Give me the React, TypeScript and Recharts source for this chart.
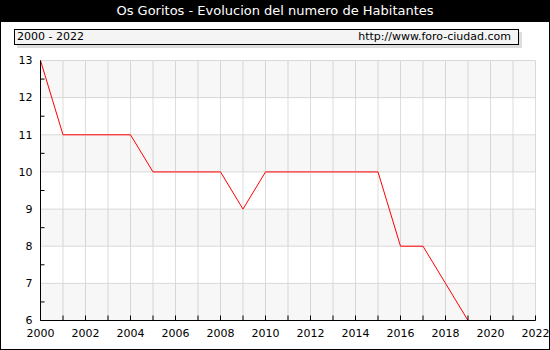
import React from 'react';
import { LineChart, Line, XAxis, YAxis, CartesianGrid, ReferenceArea } from 'recharts';

const years = [2000, 2001, 2002, 2003, 2004, 2005, 2006, 2007, 2008, 2009, 2010, 2011, 2012, 2013, 2014, 2015, 2016, 2017, 2018, 2019];
const habitantes = [13, 11, 11, 11, 11, 10, 10, 10, 10, 9, 10, 10, 10, 10, 10, 10, 8, 8, 7, 6];
const xTicks = [2000, 2001, 2002, 2003, 2004, 2005, 2006, 2007, 2008, 2009, 2010, 2011, 2012, 2013, 2014, 2015, 2016, 2017, 2018, 2019, 2020, 2021, 2022];
const yTicks = [6, 6.5, 7, 7.5, 8, 8.5, 9, 9.5, 10, 10.5, 11, 11.5, 12, 12.5, 13];
const yGrid = [6, 7, 8, 9, 10, 11, 12, 13];
// shaded bands [from, to]
const bands = [[12, 13], [10, 11], [8, 9], [6, 7]];

const FONT = '"DejaVu Sans", Verdana, sans-serif';

const data = years.map((year, i) => ({ year, value: habitantes[i] }));

// tickSize 0 + tickMargin 8 -> axis line sits at x + 8
const YTick = (props: any) => {
  const { x, y, payload } = props;
  const v = payload.value;
  const axisX = x + 8;
  if (Number.isInteger(v)) {
    return (
      <text x={x} y={y} dy="0.35em" textAnchor="end" fontSize={11} fontFamily={FONT} fill="#000">
        {v}
      </text>
    );
  }
  return <line x1={axisX} y1={y} x2={axisX + 4} y2={y} stroke="#000" />;
};

const XTick = (props: any) => {
  const { x, y, payload } = props;
  const v = payload.value;
  return (
    <g>
      <line x1={x} y1={y} x2={x} y2={y - 5} stroke="#000" />
      {v % 2 === 0 && (
        <text x={x} y={y + 16} textAnchor="middle" fontSize={11} fontFamily={FONT} fill="#000">
          {v}
        </text>
      )}
    </g>
  );
};

export default function App() {
  return (
    <div style={{ position: 'absolute', left: 0, top: 0, width: 550, height: 350, background: '#fff', fontFamily: FONT }}>
      <div style={{ position: 'absolute', left: 0, top: 0 }}>
        <LineChart width={550} height={350} data={data} margin={{ top: 60.5, right: 14.5, bottom: 0, left: 0 }}>
          <CartesianGrid stroke="#dddddd" horizontalValues={yGrid} verticalValues={xTicks} />
          {/* translucent so the grid lines still show through */}
          {bands.map(([a, b]) => (
            <ReferenceArea key={a} y1={a} y2={b} fill="#000" fillOpacity={0.03} stroke="none" />
          ))}
          <XAxis
            dataKey="year"
            type="number"
            domain={[2000, 2022]}
            ticks={xTicks}
            interval={0}
            height={29.5}
            axisLine={{ stroke: '#000' }}
            tickLine={false}
            tickSize={0}
            tickMargin={0}
            tick={<XTick />}
          />
          <YAxis
            type="number"
            domain={[6, 13]}
            ticks={yTicks}
            interval={0}
            width={40.5}
            axisLine={{ stroke: '#000' }}
            tickLine={false}
            tickSize={0}
            tickMargin={8}
            tick={<YTick />}
          />
          <Line
            type="linear"
            dataKey="value"
            stroke="#ff0000"
            strokeWidth={1}
            dot={false}
            activeDot={false}
            isAnimationActive={false}
          />
        </LineChart>
      </div>
      <div
        style={{
          position: 'absolute', left: 0, top: 0, width: 550, height: 22, background: '#000', color: '#fff',
          fontSize: 13, lineHeight: '22px', textAlign: 'center',
        }}
      >
        Os Goritos - Evolucion del numero de Habitantes
      </div>
      <div
        style={{
          position: 'absolute', left: 14, top: 29, width: 505, height: 16, boxSizing: 'border-box',
          border: '1px solid #000', background: '#f4f4f4', boxShadow: '3px 3px 0 #ddd',
          fontSize: 11, lineHeight: '14px', color: '#000',
        }}
      >
        <span style={{ position: 'absolute', left: 2, top: 0 }}>2000 - 2022</span>
        <span style={{ position: 'absolute', right: 7, top: 0 }}>http://www.foro-ciudad.com</span>
      </div>
      <div
        style={{
          position: 'absolute', left: 0, top: 0, width: 550, height: 350, boxSizing: 'border-box',
          border: '1px solid #000', pointerEvents: 'none',
        }}
      />
    </div>
  );
}
